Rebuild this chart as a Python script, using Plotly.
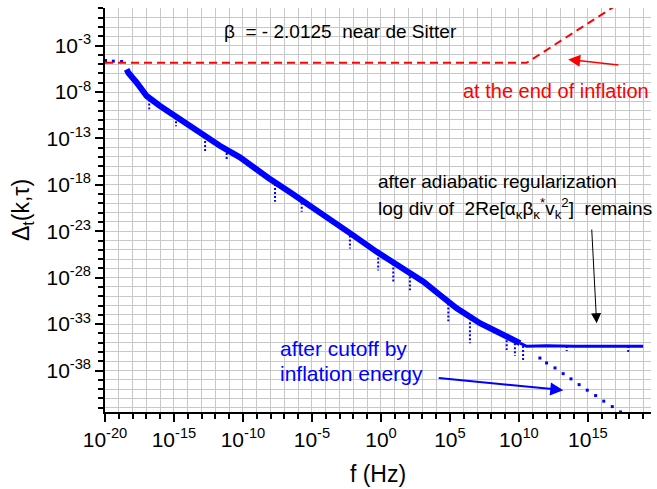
import plotly.graph_objects as go

FONT = "Liberation Sans, Arial, sans-serif"

# ---- data ----
# main power-law band (blue)
band_f = [3.7e-19, 4.9e-19, 2.0e-18, 1.05e-17, 9.8e-17, 2.7e-15, 1.45e-14, 2.3e-13,
          2.1e-12, 6.0e-11, 5.6e-10, 7.0e-9, 2.6e-7, 7.2e-6, 2.0e-4, 9.8e-3,
          0.49, 42, 1.2e3, 1.9e4, 3.1e5, 1.5e7, 4.2e8, 1.2e10]
band_d = [2.7e-6, 1.2e-6, 1.0e-7, 3.7e-9, 3.1e-10, 1.2e-11, 2.2e-12, 1.3e-13,
          1.6e-14, 9.1e-16, 7.8e-17, 5.5e-18, 1.6e-19, 6.0e-21, 2.2e-22, 3.6e-24,
          6.0e-26, 9.8e-28, 3.7e-29, 1.35e-30, 5.0e-32, 1.26e-33, 1.05e-34, 8.9e-36]

# plateau after adiabatic regularization
plat_f = [1.2e10, 3.6e10, 1e12, 1e13, 1e14, 1e15, 1e16, 1e17, 1e18, 1e19]
plat_d = [8.9e-36, 4.0e-36, 4.5e-36, 4.0e-36, 4.2e-36, 4.0e-36, 4.3e-36, 4.0e-36, 4.2e-36, 4.0e-36]

# downward dips (dotted drips) : frequency, top value, bottom value
dip_f = [1.6e-17, 1.4e-15, 1.8e-13, 6.6e-12, 2.1e-8, 1.8e-6, 5.6e-3, 0.63, 7.8, 126,
         7.6e4, 2.8e6, 1.3e9, 5.1e9, 2.0e10, 2.9e13, 8.3e17]
dip_top = [1.6e-9, 1.9e-11, 1.4e-13, 7.1e-15, 1.26e-18, 3.1e-20, 3.4e-24, 4.0e-26, 3.4e-27, 1.35e-28,
           1.7e-31, 4.3e-33, 5.0e-35, 8.9e-36, 4.3e-36, 4.3e-36, 4.3e-36]
dip_bot = [1.4e-10, 2.1e-12, 4.4e-15, 3.7e-16, 1.5e-20, 1.26e-21, 1.4e-25, 6.0e-28, 2.4e-29, 4.3e-30,
           2.0e-33, 8.9e-36, 1.6e-36, 3.6e-37, 1.35e-37, 1.26e-36, 5.9e-37]

# cutoff by inflation energy (sparse blue dots)
cut_f = [3.3e11, 1.0e12, 4.1e12, 1.6e13, 5.9e13, 2.3e14, 8.9e14, 3.6e15, 1.4e16, 5.8e16, 2.3e17]
cut_d = [2.2e-37, 6.5e-38, 1.9e-38, 4.6e-39, 1.26e-39, 3.0e-40, 7.6e-41, 2.0e-41, 5.0e-42, 1.3e-42, 3.4e-43]

# few early blue dots near the top-left
early_f = [1.1e-20, 4.0e-20, 1.6e-19]
early_d = [2.5e-5, 2.1e-5, 1.95e-5]

# red dashed: at the end of inflation
end_f = [1e-20, 3.6e10, 1e17]
end_d = [1.4e-5, 1.4e-5, 20]

x_major = [1e-20, 1e-15, 1e-10, 1e-5, 1e0, 1e5, 1e10, 1e15]
x_major_txt = ["10<sup>-20</sup>", "10<sup>-15</sup>", "10<sup>-10</sup>", "10<sup>-5</sup>",
               "10<sup>0</sup>", "10<sup>5</sup>", "10<sup>10</sup>", "10<sup>15</sup>"]
y_major = [1e-3, 1e-8, 1e-13, 1e-18, 1e-23, 1e-28, 1e-33, 1e-38]
y_major_txt = ["10<sup>-3</sup>", "10<sup>-8</sup>", "10<sup>-13</sup>", "10<sup>-18</sup>",
               "10<sup>-23</sup>", "10<sup>-28</sup>", "10<sup>-33</sup>", "10<sup>-38</sup>"]
x_minor = [10.0 ** k for k in range(-20, 20)]
y_minor = [10.0 ** k for k in range(-42, 2)]

BLUE = "#0000ff"
RED = "#ff0000"

fig = go.Figure()

# dips
dx, dy = [], []
for f, t, b in zip(dip_f, dip_top, dip_bot):
    dx += [f, f, None]
    dy += [t, b, None]
fig.add_trace(go.Scatter(x=dx, y=dy, mode="lines",
                         line=dict(color=BLUE, width=2, dash="2px,2px"), showlegend=False))

fig.add_trace(go.Scatter(x=band_f, y=band_d, mode="lines",
                         line=dict(color=BLUE, width=6), showlegend=False))
fig.add_trace(go.Scatter(x=plat_f, y=plat_d, mode="lines",
                         line=dict(color=BLUE, width=3), showlegend=False))
fig.add_trace(go.Scatter(x=cut_f, y=cut_d, mode="markers",
                         marker=dict(color=BLUE, size=3, symbol="square"), showlegend=False))
fig.add_trace(go.Scatter(x=early_f, y=early_d, mode="markers",
                         marker=dict(color=BLUE, size=3, symbol="square"), showlegend=False))
fig.add_trace(go.Scatter(x=end_f, y=end_d, mode="lines",
                         line=dict(color=RED, width=2, dash="8px,5px"), showlegend=False))

axis_common = dict(
    type="log", showline=True, linecolor="black", linewidth=1.5,
    ticks="outside", ticklen=8, tickwidth=1.5, tickcolor="black",
    showgrid=True, gridcolor="#c8c8c8", gridwidth=1, zeroline=False,
    tickfont=dict(family=FONT, size=21, color="black"),
    tickmode="array",
)

fig.update_xaxes(**axis_common, range=[-20, 19.57], tickvals=x_major, ticktext=x_major_txt,
                 minor=dict(tickmode="array", tickvals=x_minor, ticks="outside", ticklen=5,
                            tickwidth=1.5, tickcolor="black", showgrid=True,
                            gridcolor="#c8c8c8", gridwidth=1),
                 title=dict(text="f (Hz)", font=dict(family=FONT, size=23, color="black"),
                            standoff=16))
fig.update_yaxes(**axis_common, range=[-42.47, 1.05], tickvals=y_major, ticktext=y_major_txt,
                 minor=dict(tickmode="array", tickvals=y_minor, ticks="outside", ticklen=5,
                            tickwidth=1.5, tickcolor="black", showgrid=True,
                            gridcolor="#c8c8c8", gridwidth=1),
                 title=dict(text="Δ<sub>t</sub>(k,τ)", font=dict(family=FONT, size=23, color="black"),
                            standoff=10))

ann = []
def txt(s, x, y, color, size):
    ann.append(dict(text=s, x=x, y=y, xref="x", yref="y", xanchor="left", yanchor="middle",
                    showarrow=False, font=dict(family=FONT, size=size, color=color)))

txt("β\u00a0\u00a0= - 2.0125\u00a0\u00a0near de Sitter", -11.55, -1.47, "black", 19)
txt("at the end of inflation", 5.8, -7.93, RED, 20)
txt("after adiabatic regularization", -0.35, -17.68, "black", 19)
txt("log div of\u00a0\u00a02Re[α<sub>κ</sub>β<sub>κ</sub><sup>*</sup>v<sub>k</sub><sup>2</sup>]\u00a0\u00a0remains",
    -0.35, -20.6, "black", 19)
txt("after cutoff by", -7.45, -35.58, BLUE, 21)
txt("inflation energy", -7.45, -38.32, BLUE, 21)

def arrow(hx, hy, tx, ty, color, width, size):
    ann.append(dict(text="", x=hx, y=hy, ax=tx, ay=ty, xref="x", yref="y", axref="x", ayref="y",
                    showarrow=True, arrowhead=2, arrowsize=size, arrowwidth=width, arrowcolor=color))

arrow(13.57, -4.50, 17.32, -5.11, RED, 1.5, 1.6)
arrow(15.63, -32.90, 15.27, -22.65, "black", 1, 2.0)
arrow(13.21, -40.12, 4.08, -38.80, BLUE, 2, 1.3)

fig.update_layout(
    width=657, height=489,
    margin=dict(l=105, r=6, t=8, b=74),
    paper_bgcolor="white", plot_bgcolor="white",
    annotations=ann,
    font=dict(family=FONT, color="black"),
)

fig.write_html("out.html")
